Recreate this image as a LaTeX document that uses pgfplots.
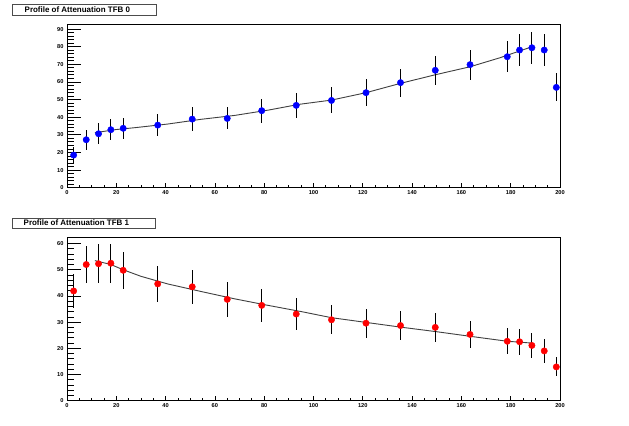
\documentclass[border=0pt]{standalone}
\usepackage{fontspec}
\setmainfont{Liberation Sans}
\usepackage{pgfplots}
\pgfplotsset{compat=1.18}
\pgfplotsset{
  rootax/.style={
    scale only axis, width=493bp, height=163.4bp,
    xmin=0, xmax=200, ymin=0,
    xtick distance=20, minor x tick num=3,
    ytick distance=10, minor y tick num=4,
    tick align=inside, xtick pos=bottom, ytick pos=left,
    axis line style={black, line width=0.8bp},
    every tick/.style={black, line width=0.8bp},
    x tick style={/pgfplots/major tick length=5bp, /pgfplots/minor tick length=2.5bp},
    y tick style={/pgfplots/major tick length=14bp, /pgfplots/minor tick length=7bp},
    tick label style={font=\fontsize{5.7}{6}\selectfont\bfseries},
    /pgf/number format/assume math mode=true,
    xticklabel style={yshift=1bp},
    yticklabel style={xshift=0bp},
    clip=false,
  },
  pts/.style={only marks, mark=*, mark size=3.2bp,
    /pgfplots/error bars/y dir=both, /pgfplots/error bars/y explicit,
    /pgfplots/error bars/error mark=none,
    /pgfplots/error bars/error bar style={black, line width=0.9bp}},
}
\begin{document}
\begin{tikzpicture}
\path[use as bounding box, fill=white] (0bp,0bp) rectangle (629bp,426bp);
% title boxes
\draw[black!70, line width=0.8bp, fill=white] (12bp,411bp) rectangle (156bp,422bp);
\node[anchor=west, inner sep=0, font=\fontsize{8}{9}\selectfont\bfseries] at (24.5bp,416.5bp) {Profile of Attenuation TFB 0};
\draw[black!70, line width=0.8bp, fill=white] (12bp,198bp) rectangle (155bp,208bp);
\node[anchor=west, inner sep=0, font=\fontsize{8}{9}\selectfont\bfseries] at (23.5bp,203bp) {Profile of Attenuation TFB 1};

\begin{axis}[rootax, at={(67bp,238.3bp)}, anchor=south west, ymax=92.7]
\addplot[black!75, line width=0.9bp] coordinates {
(11.3,31.2) (20,33) (27.2,34) (40.8,36.1) (54.4,38.8) (68,41) (81.6,44) (94.2,47.3)
(107.3,49.7) (121.3,53.9) (135.3,59.2) (149.5,64.1) (163.5,68.6) (175.6,73.7) (188.7,80)};
\addplot[pts, blue, mark options={draw=blue, fill=blue}] coordinates {
(2.7,18.5) +- (0,4.5)
(7.8,27.2) +- (0,5.7)
(12.8,30.6) +- (0,5.9)
(17.8,32.9) +- (0,6.0)
(22.8,33.7) +- (0,6.1)
(36.8,35.5) +- (0,6.1)
(50.8,38.9) +- (0,6.6)
(65.0,39.3) +- (0,6.2)
(79.0,43.7) +- (0,6.9)
(93.0,46.7) +- (0,6.9)
(107.3,49.5) +- (0,7.4)
(121.3,53.9) +- (0,7.8)
(135.3,59.6) +- (0,7.9)
(149.4,66.6) +- (0,8.3)
(163.5,69.8) +- (0,8.6)
(178.6,74.3) +- (0,8.9)
(183.6,78.1) +- (0,9.3)
(188.6,79.4) +- (0,9.0)
(193.6,78.1) +- (0,9.1)
(198.5,56.9) +- (0,7.9)
};
\end{axis}

\begin{axis}[rootax, at={(67bp,25.3bp)}, anchor=south west, ymax=62.4]
\addplot[black!75, line width=0.9bp] coordinates {
(11.3,53.5) (17.8,52.0) (22.8,50) (30,47.5) (40.8,44.6) (54.4,41.7) (68,38.9) (81.6,36.4)
(95.2,34) (107.3,31.7) (121.3,29.9) (135.3,28.1) (149.5,26.4) (163.5,24.6) (178.6,22.7) (188.7,22)};
\addplot[pts, red, mark options={draw=red, fill=red}] coordinates {
(2.7,41.9) +- (0,6.6)
(7.8,52.0) +- (0,7.2)
(12.8,52.3) +- (0,7.4)
(17.8,52.5) +- (0,7.5)
(22.8,49.8) +- (0,7.1)
(36.8,44.6) +- (0,7.0)
(50.8,43.5) +- (0,6.6)
(65.0,38.7) +- (0,6.7)
(79.0,36.4) +- (0,6.3)
(93.0,33.1) +- (0,6.1)
(107.3,30.9) +- (0,5.6)
(121.3,29.6) +- (0,5.6)
(135.3,28.7) +- (0,5.5)
(149.4,28.0) +- (0,5.5)
(163.5,25.3) +- (0,5.2)
(178.6,22.7) +- (0,4.9)
(183.6,22.5) +- (0,5.0)
(188.6,21.1) +- (0,4.7)
(193.6,19.0) +- (0,4.5)
(198.5,12.9) +- (0,3.6)
};
\end{axis}
\end{tikzpicture}
\end{document}
